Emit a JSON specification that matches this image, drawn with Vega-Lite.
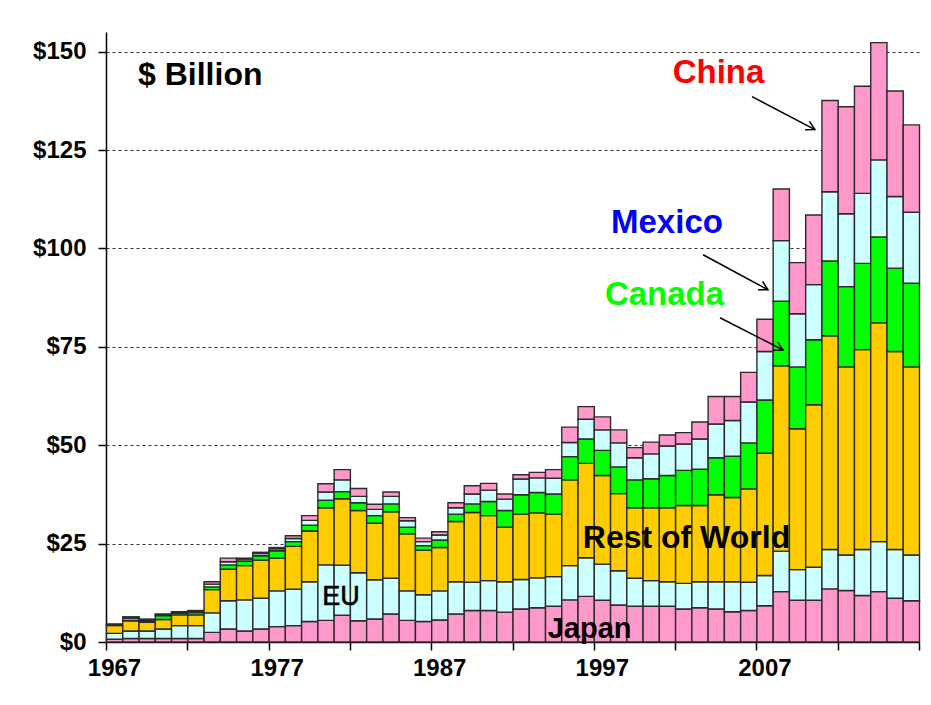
{
"$schema": "https://vega.github.io/schema/vega-lite/v6.json",
"width": 813, "height": 610,
"autosize": {"type": "none"},
"padding": {"left": 106, "top": 32, "right": 12, "bottom": 63},
"background": "white",
"config": {"view": {"stroke": null}, "font": "Liberation Sans"},
"datasets": {
"trade": [
{"year":1967,"c":"Japan","v":0.7},{"year":1967,"c":"EU","v":1.5},{"year":1967,"c":"Rest of World","v":2.0},{"year":1967,"c":"Canada","v":0.2},{"year":1967,"c":"Mexico","v":0.1},{"year":1967,"c":"China","v":0.05},
{"year":1968,"c":"Japan","v":0.9},{"year":1968,"c":"EU","v":1.9},{"year":1968,"c":"Rest of World","v":2.6},{"year":1968,"c":"Canada","v":0.7},{"year":1968,"c":"Mexico","v":0.2},{"year":1968,"c":"China","v":0.1},
{"year":1969,"c":"Japan","v":0.9},{"year":1969,"c":"EU","v":1.9},{"year":1969,"c":"Rest of World","v":2.2},{"year":1969,"c":"Canada","v":0.4},{"year":1969,"c":"Mexico","v":0.3},{"year":1969,"c":"China","v":0.1},
{"year":1970,"c":"Japan","v":0.9},{"year":1970,"c":"EU","v":2.4},{"year":1970,"c":"Rest of World","v":2.4},{"year":1970,"c":"Canada","v":1.0},{"year":1970,"c":"Mexico","v":0.3},{"year":1970,"c":"China","v":0.1},
{"year":1971,"c":"Japan","v":0.9},{"year":1971,"c":"EU","v":3.25},{"year":1971,"c":"Rest of World","v":2.75},{"year":1971,"c":"Canada","v":0.4},{"year":1971,"c":"Mexico","v":0.3},{"year":1971,"c":"China","v":0.1},
{"year":1972,"c":"Japan","v":0.9},{"year":1972,"c":"EU","v":3.25},{"year":1972,"c":"Rest of World","v":2.75},{"year":1972,"c":"Canada","v":0.6},{"year":1972,"c":"Mexico","v":0.3},{"year":1972,"c":"China","v":0.2},
{"year":1973,"c":"Japan","v":2.45},{"year":1973,"c":"EU","v":4.95},{"year":1973,"c":"Rest of World","v":5.9},{"year":1973,"c":"Canada","v":0.7},{"year":1973,"c":"Mexico","v":0.7},{"year":1973,"c":"China","v":0.6},
{"year":1974,"c":"Japan","v":3.3},{"year":1974,"c":"EU","v":7.2},{"year":1974,"c":"Rest of World","v":8.0},{"year":1974,"c":"Canada","v":1.1},{"year":1974,"c":"Mexico","v":0.8},{"year":1974,"c":"China","v":0.9},
{"year":1975,"c":"Japan","v":2.8},{"year":1975,"c":"EU","v":7.9},{"year":1975,"c":"Rest of World","v":8.7},{"year":1975,"c":"Canada","v":1.2},{"year":1975,"c":"Mexico","v":0.5},{"year":1975,"c":"China","v":0.2},
{"year":1976,"c":"Japan","v":3.3},{"year":1976,"c":"EU","v":7.8},{"year":1976,"c":"Rest of World","v":9.7},{"year":1976,"c":"Canada","v":1.1},{"year":1976,"c":"Mexico","v":0.6},{"year":1976,"c":"China","v":0.3},
{"year":1977,"c":"Japan","v":3.9},{"year":1977,"c":"EU","v":9.1},{"year":1977,"c":"Rest of World","v":8.3},{"year":1977,"c":"Canada","v":1.9},{"year":1977,"c":"Mexico","v":0.5},{"year":1977,"c":"China","v":0.3},
{"year":1978,"c":"Japan","v":4.15},{"year":1978,"c":"EU","v":9.25},{"year":1978,"c":"Rest of World","v":10.9},{"year":1978,"c":"Canada","v":1.2},{"year":1978,"c":"Mexico","v":0.8},{"year":1978,"c":"China","v":0.7},
{"year":1979,"c":"Japan","v":5.2},{"year":1979,"c":"EU","v":10.1},{"year":1979,"c":"Rest of World","v":12.9},{"year":1979,"c":"Canada","v":1.5},{"year":1979,"c":"Mexico","v":1.2},{"year":1979,"c":"China","v":1.2},
{"year":1980,"c":"Japan","v":5.5},{"year":1980,"c":"EU","v":14.1},{"year":1980,"c":"Rest of World","v":14.5},{"year":1980,"c":"Canada","v":1.9},{"year":1980,"c":"Mexico","v":2.1},{"year":1980,"c":"China","v":2.1},
{"year":1981,"c":"Japan","v":6.8},{"year":1981,"c":"EU","v":12.7},{"year":1981,"c":"Rest of World","v":16.9},{"year":1981,"c":"Canada","v":1.8},{"year":1981,"c":"Mexico","v":3.0},{"year":1981,"c":"China","v":2.6},
{"year":1982,"c":"Japan","v":5.4},{"year":1982,"c":"EU","v":12.2},{"year":1982,"c":"Rest of World","v":15.8},{"year":1982,"c":"Canada","v":2.0},{"year":1982,"c":"Mexico","v":1.6},{"year":1982,"c":"China","v":2.0},
{"year":1983,"c":"Japan","v":5.85},{"year":1983,"c":"EU","v":9.95},{"year":1983,"c":"Rest of World","v":14.4},{"year":1983,"c":"Canada","v":1.9},{"year":1983,"c":"Mexico","v":1.6},{"year":1983,"c":"China","v":1.3},
{"year":1984,"c":"Japan","v":7.1},{"year":1984,"c":"EU","v":9.1},{"year":1984,"c":"Rest of World","v":16.9},{"year":1984,"c":"Canada","v":2.0},{"year":1984,"c":"Mexico","v":1.9},{"year":1984,"c":"China","v":1.1},
{"year":1985,"c":"Japan","v":5.5},{"year":1985,"c":"EU","v":7.5},{"year":1985,"c":"Rest of World","v":14.5},{"year":1985,"c":"Canada","v":1.7},{"year":1985,"c":"Mexico","v":1.6},{"year":1985,"c":"China","v":0.8},
{"year":1986,"c":"Japan","v":5.2},{"year":1986,"c":"EU","v":6.8},{"year":1986,"c":"Rest of World","v":11.3},{"year":1986,"c":"Canada","v":1.2},{"year":1986,"c":"Mexico","v":1.0},{"year":1986,"c":"China","v":0.9},
{"year":1987,"c":"Japan","v":5.6},{"year":1987,"c":"EU","v":7.4},{"year":1987,"c":"Rest of World","v":11.0},{"year":1987,"c":"Canada","v":1.9},{"year":1987,"c":"Mexico","v":1.3},{"year":1987,"c":"China","v":0.8},
{"year":1988,"c":"Japan","v":7.1},{"year":1988,"c":"EU","v":8.2},{"year":1988,"c":"Rest of World","v":15.3},{"year":1988,"c":"Canada","v":1.9},{"year":1988,"c":"Mexico","v":1.6},{"year":1988,"c":"China","v":1.3},
{"year":1989,"c":"Japan","v":8.0},{"year":1989,"c":"EU","v":7.2},{"year":1989,"c":"Rest of World","v":17.7},{"year":1989,"c":"Canada","v":2.2},{"year":1989,"c":"Mexico","v":2.5},{"year":1989,"c":"China","v":2.1},
{"year":1990,"c":"Japan","v":8.0},{"year":1990,"c":"EU","v":7.6},{"year":1990,"c":"Rest of World","v":16.5},{"year":1990,"c":"Canada","v":3.6},{"year":1990,"c":"Mexico","v":2.9},{"year":1990,"c":"China","v":1.7},
{"year":1991,"c":"Japan","v":7.6},{"year":1991,"c":"EU","v":7.7},{"year":1991,"c":"Rest of World","v":13.9},{"year":1991,"c":"Canada","v":4.2},{"year":1991,"c":"Mexico","v":2.9},{"year":1991,"c":"China","v":1.3},
{"year":1992,"c":"Japan","v":8.4},{"year":1992,"c":"EU","v":7.5},{"year":1992,"c":"Rest of World","v":16.6},{"year":1992,"c":"Canada","v":4.9},{"year":1992,"c":"Mexico","v":4.0},{"year":1992,"c":"China","v":1.1},
{"year":1993,"c":"Japan","v":8.7},{"year":1993,"c":"EU","v":7.6},{"year":1993,"c":"Rest of World","v":16.5},{"year":1993,"c":"Canada","v":5.2},{"year":1993,"c":"Mexico","v":3.7},{"year":1993,"c":"China","v":1.4},
{"year":1994,"c":"Japan","v":9.1},{"year":1994,"c":"EU","v":7.5},{"year":1994,"c":"Rest of World","v":15.9},{"year":1994,"c":"Canada","v":5.1},{"year":1994,"c":"Mexico","v":4.0},{"year":1994,"c":"China","v":2.2},
{"year":1995,"c":"Japan","v":10.7},{"year":1995,"c":"EU","v":8.7},{"year":1995,"c":"Rest of World","v":21.8},{"year":1995,"c":"Canada","v":5.9},{"year":1995,"c":"Mexico","v":3.6},{"year":1995,"c":"China","v":3.9},
{"year":1996,"c":"Japan","v":11.6},{"year":1996,"c":"EU","v":9.8},{"year":1996,"c":"Rest of World","v":24.0},{"year":1996,"c":"Canada","v":6.2},{"year":1996,"c":"Mexico","v":5.0},{"year":1996,"c":"China","v":3.2},
{"year":1997,"c":"Japan","v":10.6},{"year":1997,"c":"EU","v":9.2},{"year":1997,"c":"Rest of World","v":22.5},{"year":1997,"c":"Canada","v":6.4},{"year":1997,"c":"Mexico","v":5.2},{"year":1997,"c":"China","v":3.3},
{"year":1998,"c":"Japan","v":9.4},{"year":1998,"c":"EU","v":8.7},{"year":1998,"c":"Rest of World","v":19.6},{"year":1998,"c":"Canada","v":6.8},{"year":1998,"c":"Mexico","v":6.1},{"year":1998,"c":"China","v":3.3},
{"year":1999,"c":"Japan","v":9.1},{"year":1999,"c":"EU","v":7.1},{"year":1999,"c":"Rest of World","v":17.9},{"year":1999,"c":"Canada","v":7.1},{"year":1999,"c":"Mexico","v":5.6},{"year":1999,"c":"China","v":2.6},
{"year":2000,"c":"Japan","v":9.1},{"year":2000,"c":"EU","v":6.5},{"year":2000,"c":"Rest of World","v":18.5},{"year":2000,"c":"Canada","v":7.4},{"year":2000,"c":"Mexico","v":6.3},{"year":2000,"c":"China","v":3.0},
{"year":2001,"c":"Japan","v":9.1},{"year":2001,"c":"EU","v":6.2},{"year":2001,"c":"Rest of World","v":18.8},{"year":2001,"c":"Canada","v":8.2},{"year":2001,"c":"Mexico","v":7.5},{"year":2001,"c":"China","v":2.8},
{"year":2002,"c":"Japan","v":8.4},{"year":2002,"c":"EU","v":6.5},{"year":2002,"c":"Rest of World","v":19.8},{"year":2002,"c":"Canada","v":8.9},{"year":2002,"c":"Mexico","v":6.7},{"year":2002,"c":"China","v":2.9},
{"year":2003,"c":"Japan","v":8.7},{"year":2003,"c":"EU","v":6.6},{"year":2003,"c":"Rest of World","v":19.4},{"year":2003,"c":"Canada","v":9.2},{"year":2003,"c":"Mexico","v":7.7},{"year":2003,"c":"China","v":4.3},
{"year":2004,"c":"Japan","v":8.4},{"year":2004,"c":"EU","v":6.9},{"year":2004,"c":"Rest of World","v":22.1},{"year":2004,"c":"Canada","v":9.4},{"year":2004,"c":"Mexico","v":8.6},{"year":2004,"c":"China","v":7.0},
{"year":2005,"c":"Japan","v":7.7},{"year":2005,"c":"EU","v":7.6},{"year":2005,"c":"Rest of World","v":21.4},{"year":2005,"c":"Canada","v":10.5},{"year":2005,"c":"Mexico","v":9.1},{"year":2005,"c":"China","v":6.1},
{"year":2006,"c":"Japan","v":8.0},{"year":2006,"c":"EU","v":7.2},{"year":2006,"c":"Rest of World","v":23.7},{"year":2006,"c":"Canada","v":11.7},{"year":2006,"c":"Mexico","v":10.4},{"year":2006,"c":"China","v":7.5},
{"year":2007,"c":"Japan","v":9.2},{"year":2007,"c":"EU","v":7.7},{"year":2007,"c":"Rest of World","v":31.1},{"year":2007,"c":"Canada","v":13.5},{"year":2007,"c":"Mexico","v":12.3},{"year":2007,"c":"China","v":8.2},
{"year":2008,"c":"Japan","v":12.8},{"year":2008,"c":"EU","v":10.3},{"year":2008,"c":"Rest of World","v":47.1},{"year":2008,"c":"Canada","v":16.4},{"year":2008,"c":"Mexico","v":15.4},{"year":2008,"c":"China","v":13.1},
{"year":2009,"c":"Japan","v":10.6},{"year":2009,"c":"EU","v":7.8},{"year":2009,"c":"Rest of World","v":35.8},{"year":2009,"c":"Canada","v":15.7},{"year":2009,"c":"Mexico","v":13.5},{"year":2009,"c":"China","v":13.0},
{"year":2010,"c":"Japan","v":10.6},{"year":2010,"c":"EU","v":8.4},{"year":2010,"c":"Rest of World","v":41.3},{"year":2010,"c":"Canada","v":16.5},{"year":2010,"c":"Mexico","v":14.0},{"year":2010,"c":"China","v":17.7},
{"year":2011,"c":"Japan","v":13.5},{"year":2011,"c":"EU","v":10.0},{"year":2011,"c":"Rest of World","v":54.3},{"year":2011,"c":"Canada","v":19.0},{"year":2011,"c":"Mexico","v":17.6},{"year":2011,"c":"China","v":23.2},
{"year":2012,"c":"Japan","v":13.1},{"year":2012,"c":"EU","v":9.0},{"year":2012,"c":"Rest of World","v":47.8},{"year":2012,"c":"Canada","v":20.4},{"year":2012,"c":"Mexico","v":18.5},{"year":2012,"c":"China","v":27.2},
{"year":2013,"c":"Japan","v":11.8},{"year":2013,"c":"EU","v":11.7},{"year":2013,"c":"Rest of World","v":50.8},{"year":2013,"c":"Canada","v":21.9},{"year":2013,"c":"Mexico","v":17.8},{"year":2013,"c":"China","v":27.2},
{"year":2014,"c":"Japan","v":12.8},{"year":2014,"c":"EU","v":12.7},{"year":2014,"c":"Rest of World","v":55.6},{"year":2014,"c":"Canada","v":21.8},{"year":2014,"c":"Mexico","v":19.6},{"year":2014,"c":"China","v":29.8},
{"year":2015,"c":"Japan","v":11.1},{"year":2015,"c":"EU","v":12.4},{"year":2015,"c":"Rest of World","v":50.3},{"year":2015,"c":"Canada","v":21.2},{"year":2015,"c":"Mexico","v":18.2},{"year":2015,"c":"China","v":26.8},
{"year":2016,"c":"Japan","v":10.5},{"year":2016,"c":"EU","v":11.6},{"year":2016,"c":"Rest of World","v":47.8},{"year":2016,"c":"Canada","v":21.3},{"year":2016,"c":"Mexico","v":18.0},{"year":2016,"c":"China","v":22.2}
]
},
"layer": [
{
"data": {"name": "trade"},
"transform": [
{"calculate": "indexof(['Japan','EU','Rest of World','Canada','Mexico','China'], datum.c)", "as": "stackOrder"}
],
"mark": {"type": "bar", "binSpacing": 0, "stroke": "#2b2b2b", "strokeWidth": 1.4},
"encoding": {
"x": {"field": "year", "type": "quantitative", "bin": {"step": 1, "extent": [1967, 2017]},
"scale": {"domain": [1967, 2017], "nice": false, "zero": false},
"axis": {"title": null, "values": [1967,1972,1977,1982,1987,1992,1997,2002,2007,2012,2017],
"labelExpr": "(datum.value-1967)%10==0 && datum.value<2017 ? ''+datum.value : ''",
"labelOffset": 8, "labelFlush": false, "labelOverlap": false, "labelBound": false,
"labelFont": "Liberation Sans", "labelFontWeight": "bold", "labelFontSize": 24, "labelColor": "#000000",
"labelPadding": 6, "tickSize": 8, "tickColor": "#000000", "tickWidth": 1.5,
"domainColor": "#000000", "domainWidth": 1.5, "grid": false}},
"y": {"aggregate": "sum", "field": "v", "type": "quantitative", "stack": "zero",
"scale": {"domain": [0, 155], "nice": false},
"axis": {"title": null, "values": [0,25,50,75,100,125,150],
"labelExpr": "'$' + datum.value",
"labelFont": "Liberation Sans", "labelFontWeight": "bold", "labelFontSize": 24, "labelColor": "#000000",
"labelPadding": 12, "tickSize": 8, "tickColor": "#000000", "tickWidth": 1.5,
"domainColor": "#000000", "domainWidth": 1.5,
"grid": true, "gridColor": "#000000", "gridDash": [3, 3], "gridWidth": 1, "gridOpacity": 0.8}},
"color": {"field": "c", "type": "nominal",
"scale": {"domain": ["Japan","EU","Rest of World","Canada","Mexico","China"],
"range": ["#FF99CC","#CCFFFF","#FFCC00","#00FF00","#CCFFFF","#FF99CC"]},
"legend": null},
"order": {"field": "stackOrder", "type": "quantitative", "sort": "ascending"}
}
},
{"data": {"values": [{}]}, "mark": {"type": "text", "text": "$ Billion", "font": "Liberation Sans", "fontSize": 32, "fontWeight": "bold", "align": "left", "baseline": "middle", "color": "#000000"},
"encoding": {"x": {"datum": 1968.97, "type": "quantitative"}, "y": {"datum": 144.0, "type": "quantitative"}}},
{"data": {"values": [{}]}, "mark": {"type": "text", "text": "China", "font": "Liberation Sans", "fontSize": 33, "fontWeight": "bold", "align": "center", "baseline": "middle", "color": "#FF0000"},
"encoding": {"x": {"datum": 2004.67, "type": "quantitative"}, "y": {"datum": 144.5, "type": "quantitative"}}},
{"data": {"values": [{}]}, "mark": {"type": "text", "text": "Mexico", "font": "Liberation Sans", "fontSize": 33, "fontWeight": "bold", "align": "center", "baseline": "middle", "color": "#0000FF"},
"encoding": {"x": {"datum": 2001.5, "type": "quantitative"}, "y": {"datum": 106.5, "type": "quantitative"}}},
{"data": {"values": [{}]}, "mark": {"type": "text", "text": "Canada", "font": "Liberation Sans", "fontSize": 33, "fontWeight": "bold", "align": "center", "baseline": "middle", "color": "#00FF00"},
"encoding": {"x": {"datum": 2001.35, "type": "quantitative"}, "y": {"datum": 88.2, "type": "quantitative"}}},
{"data": {"values": [{}]}, "mark": {"type": "text", "text": "Rest of World", "font": "Liberation Sans", "fontSize": 32, "fontWeight": "bold", "align": "center", "baseline": "middle", "color": "#000000"},
"encoding": {"x": {"datum": 2002.7, "type": "quantitative"}, "y": {"datum": 26.4, "type": "quantitative"}}},
{"data": {"values": [{}]}, "mark": {"type": "text", "text": "EU", "font": "Liberation Sans", "fontSize": 27, "fontWeight": "normal", "align": "center", "baseline": "middle", "color": "#000000", "stroke": "#000000", "strokeWidth": 0.6},
"encoding": {"x": {"datum": 1981.45, "type": "quantitative"}, "y": {"datum": 11.4, "type": "quantitative"}}},
{"data": {"values": [{}]}, "mark": {"type": "text", "text": "Japan", "font": "Liberation Sans", "fontSize": 29, "fontWeight": "bold", "align": "center", "baseline": "middle", "color": "#000000"},
"encoding": {"x": {"datum": 1996.74, "type": "quantitative"}, "y": {"datum": 3.3, "type": "quantitative"}}},
{"data": {"values": [{}]}, "mark": {"type": "rule", "color": "#000000", "strokeWidth": 1.5},
"encoding": {"x": {"datum": 2006.73, "type": "quantitative"}, "y": {"datum": 138.6, "type": "quantitative"}, "x2": {"datum": 2010.6}, "y2": {"datum": 130.2}}},
{"data": {"values": [{}]}, "mark": {"type": "point", "shape": "M-1,-0.55L0,0L-1,0.55", "filled": false, "stroke": "#000000", "strokeWidth": 1.5, "size": 300, "angle": 27.6, "opacity": 1},
"encoding": {"x": {"datum": 2010.6, "type": "quantitative"}, "y": {"datum": 130.2, "type": "quantitative"}}},
{"data": {"values": [{}]}, "mark": {"type": "rule", "color": "#000000", "strokeWidth": 1.5},
"encoding": {"x": {"datum": 2003.72, "type": "quantitative"}, "y": {"datum": 98.4, "type": "quantitative"}, "x2": {"datum": 2007.71}, "y2": {"datum": 89.5}}},
{"data": {"values": [{}]}, "mark": {"type": "point", "shape": "M-1,-0.55L0,0L-1,0.55", "filled": false, "stroke": "#000000", "strokeWidth": 1.5, "size": 300, "angle": 28.3, "opacity": 1},
"encoding": {"x": {"datum": 2007.71, "type": "quantitative"}, "y": {"datum": 89.5, "type": "quantitative"}}},
{"data": {"values": [{}]}, "mark": {"type": "rule", "color": "#000000", "strokeWidth": 1.5},
"encoding": {"x": {"datum": 2004.76, "type": "quantitative"}, "y": {"datum": 82.4, "type": "quantitative"}, "x2": {"datum": 2008.64}, "y2": {"datum": 74.2}}},
{"data": {"values": [{}]}, "mark": {"type": "point", "shape": "M-1,-0.55L0,0L-1,0.55", "filled": false, "stroke": "#000000", "strokeWidth": 1.5, "size": 300, "angle": 26.9, "opacity": 1},
"encoding": {"x": {"datum": 2008.64, "type": "quantitative"}, "y": {"datum": 74.2, "type": "quantitative"}}}
]
}
